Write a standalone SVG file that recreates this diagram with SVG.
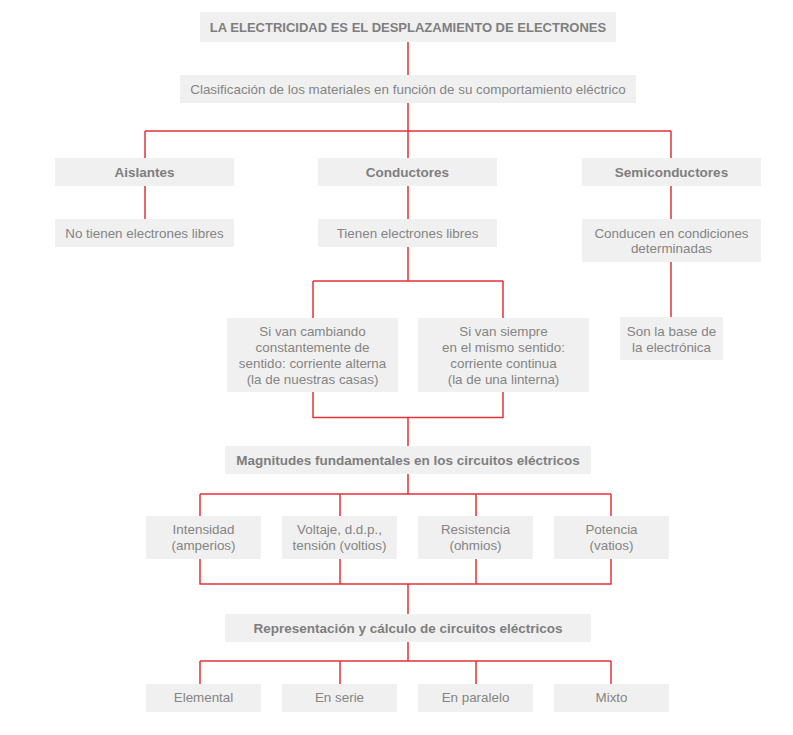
<svg xmlns="http://www.w3.org/2000/svg" width="793" height="735" viewBox="0 0 793 735">
<style>
.b{fill:#f0f0f0}
.t{font-family:"Liberation Sans",Arial,sans-serif;font-size:13.4px;fill:#848484;text-anchor:middle}
.bd{font-weight:bold;font-size:13.5px;fill:#7e7e7e}
.c{fill:none;stroke:#e8303a;stroke-width:1.5}
</style>
<rect width="793" height="735" fill="#fff"/>
<g id="connectors">
<path class="c" d="M408 42V75M408 103V131M145 131H671M145 131V158M408 131V158M671 131V158"/>
<path class="c" d="M145 186V219M408 186V219M671 186V219M671 262V317"/>
<path class="c" d="M408 247V281M313 281H503M313 281V318M503 281V318"/>
<path class="c" d="M313 392V417.5H503V392M408 417.5V446"/>
<path class="c" d="M408 474V494M200 494H611M200 494V516M340 494V516M476 494V516M611 494V516"/>
<path class="c" d="M200 559V584H611V559M340 559V584M476 559V584M408 584V614"/>
<path class="c" d="M408 642V661M200 661H611M200 661V684M340 661V684M476 661V684M611 661V684"/>
</g>
<g id="title"><rect class="b" x="200" y="12" width="416" height="30"/><text class="t bd" x="408" y="31.5" style="font-size:13px">LA ELECTRICIDAD ES EL DESPLAZAMIENTO DE ELECTRONES</text></g>
<g id="clasificacion"><rect class="b" x="180" y="75" width="456" height="28"/><text class="t" x="408" y="93.5">Clasificación de los materiales en función de su comportamiento eléctrico</text></g>
<g id="aislantes"><rect class="b" x="55" y="158" width="179" height="28"/><text class="t bd" x="144.5" y="176.5">Aislantes</text></g>
<g id="conductores"><rect class="b" x="318" y="158" width="179" height="28"/><text class="t bd" x="407.5" y="176.5">Conductores</text></g>
<g id="semiconductores"><rect class="b" x="582" y="158" width="179" height="28"/><text class="t bd" x="671.5" y="176.5">Semiconductores</text></g>
<g id="no-libres"><rect class="b" x="55" y="219" width="179" height="28"/><text class="t" x="144.5" y="237.5">No tienen electrones libres</text></g>
<g id="libres"><rect class="b" x="318" y="219" width="179" height="28"/><text class="t" x="407.5" y="237.5">Tienen electrones libres</text></g>
<g id="conducen"><rect class="b" x="582" y="219" width="179" height="43"/><text class="t" x="671.5" y="237.5">Conducen en condiciones</text><text class="t" x="671.5" y="252.5">determinadas</text></g>
<g id="alterna"><rect class="b" x="227" y="318" width="171" height="74"/><text class="t" x="312.5" y="335.5">Si van cambiando</text><text class="t" x="312.5" y="351.5">constantemente de</text><text class="t" x="312.5" y="367.5">sentido: corriente alterna</text><text class="t" x="312.5" y="383.5">(la de nuestras casas)</text></g>
<g id="continua"><rect class="b" x="418" y="318" width="171" height="74"/><text class="t" x="503.5" y="335.5">Si van siempre</text><text class="t" x="503.5" y="351.5">en el mismo sentido:</text><text class="t" x="503.5" y="367.5">corriente continua</text><text class="t" x="503.5" y="383.5">(la de una linterna)</text></g>
<g id="base"><rect class="b" x="620" y="317" width="103" height="43"/><text class="t" x="671.5" y="335.5">Son la base de</text><text class="t" x="671.5" y="351.5">la electrónica</text></g>
<g id="magnitudes"><rect class="b" x="225" y="446" width="366" height="28"/><text class="t bd" x="408" y="465">Magnitudes fundamentales en los circuitos eléctricos</text></g>
<g id="intensidad"><rect class="b" x="146" y="516" width="115" height="43"/><text class="t" x="203.5" y="533.5">Intensidad</text><text class="t" x="203.5" y="550">(amperios)</text></g>
<g id="voltaje"><rect class="b" x="282" y="516" width="115" height="43"/><text class="t" x="339.5" y="533.5">Voltaje, d.d.p.,</text><text class="t" x="339.5" y="550">tensión (voltios)</text></g>
<g id="resistencia"><rect class="b" x="418" y="516" width="115" height="43"/><text class="t" x="475.5" y="533.5">Resistencia</text><text class="t" x="475.5" y="550">(ohmios)</text></g>
<g id="potencia"><rect class="b" x="554" y="516" width="115" height="43"/><text class="t" x="611.5" y="533.5">Potencia</text><text class="t" x="611.5" y="550">(vatios)</text></g>
<g id="representacion"><rect class="b" x="225" y="614" width="366" height="28"/><text class="t bd" x="408" y="632.5">Representación y cálculo de circuitos eléctricos</text></g>
<g id="elemental"><rect class="b" x="146" y="684" width="115" height="28"/><text class="t" x="203.5" y="701.5">Elemental</text></g>
<g id="serie"><rect class="b" x="282" y="684" width="115" height="28"/><text class="t" x="339.5" y="701.5">En serie</text></g>
<g id="paralelo"><rect class="b" x="418" y="684" width="115" height="28"/><text class="t" x="475.5" y="701.5">En paralelo</text></g>
<g id="mixto"><rect class="b" x="554" y="684" width="115" height="28"/><text class="t" x="611.5" y="701.5">Mixto</text></g>
</svg>
